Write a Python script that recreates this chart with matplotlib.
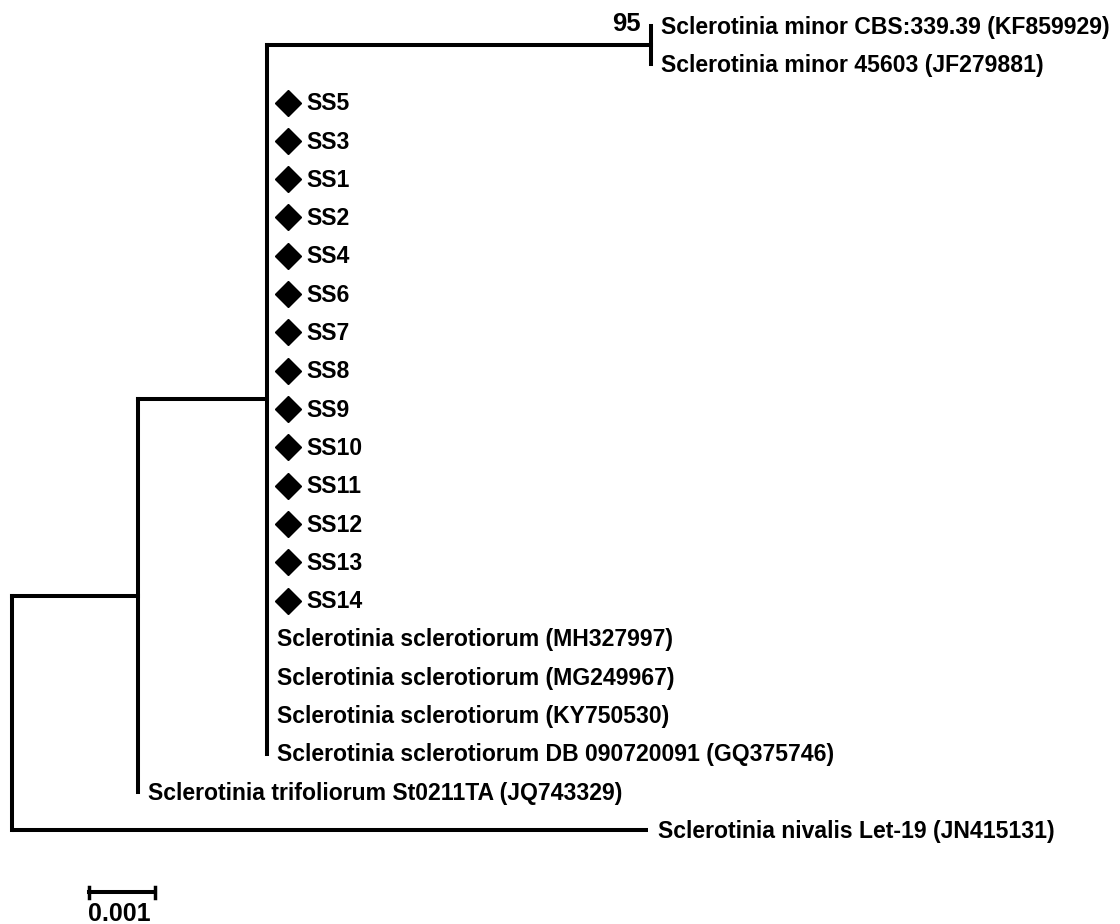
import matplotlib
matplotlib.use("Agg")
import matplotlib.pyplot as plt

plt.rcParams['font.family'] = ['Liberation Sans', 'DejaVu Sans']
plt.rcParams['font.weight'] = 'bold'

# leaf labels, top to bottom
minor_names = ["Sclerotinia minor CBS:339.39 (KF859929)",
               "Sclerotinia minor 45603 (JF279881)"]
isolate_names = ["SS5", "SS3", "SS1", "SS2", "SS4", "SS6", "SS7", "SS8", "SS9",
                 "SS10", "SS11", "SS12", "SS13", "SS14"]
sclerotiorum_names = ["Sclerotinia sclerotiorum (MH327997)",
                      "Sclerotinia sclerotiorum (MG249967)",
                      "Sclerotinia sclerotiorum (KY750530)",
                      "Sclerotinia sclerotiorum DB 090720091 (GQ375746)"]
trifoliorum_name = "Sclerotinia trifoliorum St0211TA (JQ743329)"
nivalis_name = "Sclerotinia nivalis Let-19 (JN415131)"

# branch lengths (substitutions per site)
len_root_nivalis = 0.00964
len_root_trif_node = 0.00191
len_trif_node_scl_node = 0.00195
len_scl_node_minor = 0.00582
minor_bootstrap = "95"
scale_len = 0.001

# tree as nested tuples: (branch_length, children or label, is_isolate)
minor_clade = (len_scl_node_minor, [(0.0, n, False) for n in minor_names])
scl_clade = (len_trif_node_scl_node,
             [minor_clade]
             + [(0.0, n, True) for n in isolate_names]
             + [(0.0, n, False) for n in sclerotiorum_names])
trif_clade = (len_root_trif_node, [scl_clade, (0.0, trifoliorum_name, False)])
tree = (0.0, [trif_clade, (len_root_nivalis, nivalis_name, False)])

fig = plt.figure(figsize=(11.2, 9.24), dpi=100)
ax = fig.add_axes([0, 0, 1, 1])
LW = 2.9
FS = 16.6
row = [0]


def draw(node, x0):
    blen, body = node[0], node[1]
    x = x0 + blen
    if isinstance(body, str):
        y = row[0]
        row[0] += 1
        if node[2]:
            ax.plot(x + 0.00032, y, marker='D', color='black', ms=13, mec='black')
            ax.text(x + 0.0006, y + 0.03, body, fontsize=FS, va='center', ha='left')
        else:
            ax.text(x + 0.00015, y + 0.03, body, fontsize=FS, va='center', ha='left')
        ax.plot([x0, x], [y, y], color='black', lw=LW, solid_capstyle='butt')
        return y
    ys = [draw(c, x) for c in body]
    y = (ys[0] + ys[-1]) / 2
    ax.plot([x, x], [ys[0], ys[-1]], color='black', lw=LW, solid_capstyle='projecting')
    ax.plot([x0, x], [y, y], color='black', lw=LW, solid_capstyle='projecting')
    return y


draw(tree, 0.0)

# bootstrap value at minor node
mx = len_root_trif_node + len_trif_node_scl_node + len_scl_node_minor
ax.text(mx - 0.00016, -0.05, minor_bootstrap, fontsize=18.5, ha='right', va='center')

# scale bar
sx0 = 0.00117
sy = 22.62
ax.plot([sx0, sx0 + scale_len], [sy, sy], color='black', lw=LW)
ax.plot([sx0, sx0], [sy - 0.15, sy + 0.15], color='black', lw=2.5)
ax.plot([sx0 + scale_len, sx0 + scale_len], [sy - 0.15, sy + 0.15], color='black', lw=2.5)
ax.text(sx0 + scale_len / 2 - 0.00004, sy + 0.24, "0.001", fontsize=18, ha='center', va='top')

ax.set_xlim(-12 / 66000, 1108 / 66000)
ax.set_ylim((924 - 26) / 38.3, -26 / 38.3)
ax.axis('off')

fig.savefig("out.png", dpi=100, facecolor='white')
